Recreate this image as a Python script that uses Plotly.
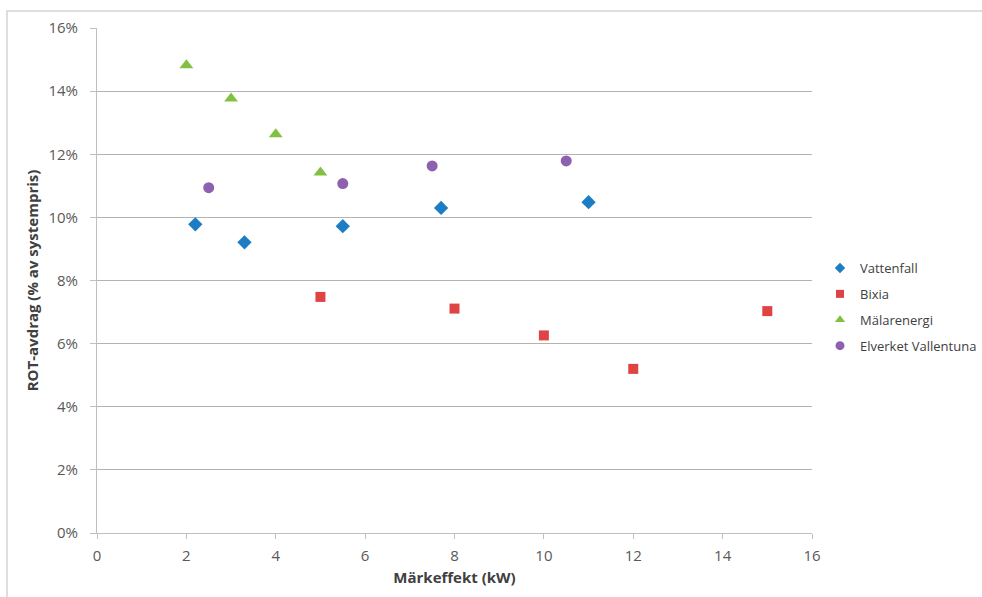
import plotly.graph_objects as go

vattenfall_x = [2.2, 3.3, 5.5, 7.7, 11.0]
vattenfall_y = [0.0978, 0.0921, 0.0972, 0.1030, 0.1048]
bixia_x = [5, 8, 10, 12, 15]
bixia_y = [0.0748, 0.0711, 0.0626, 0.0520, 0.0703]
malar_x = [2, 3, 4, 5]
malar_y = [0.1482, 0.1377, 0.1263, 0.1142]
elverket_x = [2.5, 5.5, 7.5, 10.5]
elverket_y = [0.1094, 0.1107, 0.1163, 0.1179]

series_names = ["Vattenfall", "Bixia", "Mälarenergi", "Elverket Vallentuna"]
x_ticks = [0, 2, 4, 6, 8, 10, 12, 14, 16]
y_ticks = [0, 0.02, 0.04, 0.06, 0.08, 0.10, 0.12, 0.14, 0.16]

styles = [
    dict(symbol="diamond", size=11, color="#1c7cc4", lsize=8),
    dict(symbol="square", size=10, color="#e04343", lsize=8),
    dict(symbol="triangle-up", size=12, color="#82c042", lsize=9),
    dict(symbol="circle", size=11, color="#8e61b0", lsize=9),
]
data = [(vattenfall_x, vattenfall_y), (bixia_x, bixia_y), (malar_x, malar_y), (elverket_x, elverket_y)]

fig = go.Figure()
for name, (xs, ys), st in zip(series_names, data, styles):
    fig.add_trace(go.Scatter(x=xs, y=ys, mode="markers", name=name, showlegend=False,
                             legendgroup=name,
                             marker=dict(symbol=st["symbol"], size=st["size"], color=st["color"])))
for name, st in zip(series_names, styles):
    fig.add_trace(go.Scatter(x=[None], y=[None], mode="markers", name=name, showlegend=True,
                             legendgroup=name,
                             marker=dict(symbol=st["symbol"], size=st["lsize"], color=st["color"])))

L, R, T, B = 97, 170, 28, 64
W, H = 982, 597
pw, ph = W - L - R, H - T - B

def px_x(p):
    return (p - L) / pw

def px_y(p):
    return (H - B - p) / ph

fig.update_layout(
    width=W, height=H,
    margin=dict(l=L, r=R, t=T, b=B, autoexpand=False),
    paper_bgcolor="white", plot_bgcolor="white",
    font=dict(family="Open Sans, Liberation Sans, sans-serif", color="#404040"),
    showlegend=True,
    legend=dict(x=px_x(820), y=px_y(253), xanchor="left", yanchor="top",
                font=dict(size=13, color="#404040"), itemsizing="trace", itemwidth=30,
                bgcolor="rgba(0,0,0,0)", tracegroupgap=6),
    shapes=[dict(type="rect", xref="paper", yref="paper",
                 x0=px_x(7), x1=px_x(1000), y0=px_y(620), y1=px_y(11),
                 line=dict(color="#d4d4d4", width=1.5), fillcolor="rgba(0,0,0,0)", layer="below")],
)
fig.update_xaxes(
    range=[0, 16], tickvals=x_ticks, ticktext=[str(v) for v in x_ticks],
    showgrid=False, zeroline=False,
    showline=True, linecolor="#bfbfbf", linewidth=1,
    ticks="outside", ticklen=5, tickcolor="#bfbfbf", ticklabelstandoff=4,
    tickfont=dict(size=15, color="#595959"),
    title=dict(text="<b>Märkeffekt (kW)</b>", font=dict(size=15, color="#404040"), standoff=8),
)
fig.update_yaxes(
    range=[0, 0.16], tickvals=y_ticks, ticktext=[f"{int(round(v*100))}%" for v in y_ticks],
    showgrid=True, gridcolor="#b3b3b3", gridwidth=1, zeroline=False,
    showline=True, linecolor="#bfbfbf", linewidth=1,
    ticks="outside", ticklen=6, tickcolor="#bfbfbf", ticklabelstandoff=9,
    tickfont=dict(size=15, color="#595959"),
    title=dict(text="<b>ROT-avdrag (% av systempris)</b>", font=dict(size=15, color="#404040"), standoff=6),
)

fig.write_html("out.html")
